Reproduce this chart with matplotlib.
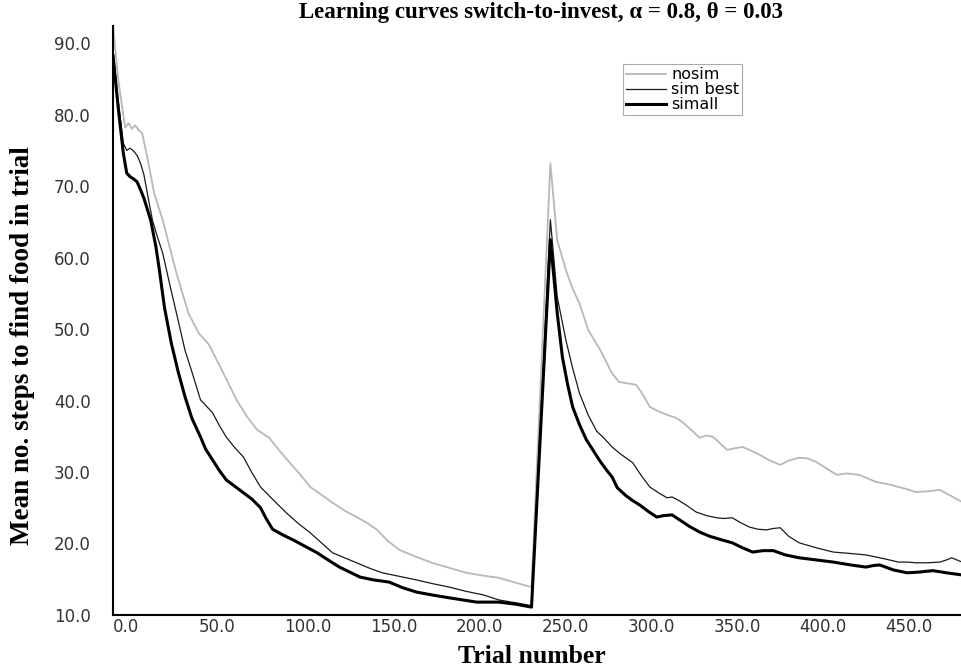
import matplotlib
matplotlib.use("Agg")
import matplotlib.pyplot as plt

# trial numbers / mean steps
nosim_x = [0, 3, 7, 9, 11, 13, 15, 17, 20, 24, 29, 33, 37, 44, 50, 56, 64, 72, 78, 84,
           91, 97, 103, 109, 115, 121, 128, 135, 142, 148, 154, 160, 167, 176, 186, 196,
           206, 216, 225, 235, 244, 255, 259, 264, 268, 272, 277, 284, 291, 295, 300, 305,
           309, 313, 318, 323, 328, 332, 337, 342, 346, 350, 354, 358, 362, 367, 372, 377,
           383, 389, 394, 400, 405, 410, 416, 422, 428, 435, 440, 445, 452, 458, 463, 468,
           475, 482, 489, 495]
nosim_y = [92.4, 85.0, 78.2, 78.8, 78.0, 78.5, 77.8, 77.4, 74.0, 69.0, 65.2, 61.5, 57.8,
           52.2, 49.4, 47.8, 44.0, 40.1, 37.8, 35.9, 34.8, 33.0, 31.3, 29.7, 27.9, 26.9,
           25.7, 24.6, 23.7, 22.9, 21.9, 20.4, 19.1, 18.2, 17.3, 16.6, 15.9, 15.5, 15.2,
           14.5, 13.9, 73.2, 62.4, 58.3, 55.6, 53.6, 49.9, 47.1, 43.8, 42.6, 42.4, 42.2,
           40.8, 39.1, 38.5, 38.0, 37.6, 37.0, 35.9, 34.8, 35.1, 34.9, 34.0, 33.1, 33.3,
           33.5, 33.0, 32.4, 31.6, 31.0, 31.6, 32.0, 31.9, 31.4, 30.5, 29.6, 29.8, 29.6,
           29.1, 28.6, 28.3, 27.9, 27.6, 27.2, 27.3, 27.5, 26.6, 25.8]

simbest_x = [0, 3, 6, 8, 10, 12, 14, 16, 18, 20, 23, 26, 29, 33, 37, 42, 46, 51, 58, 62,
             66, 71, 76, 81, 86, 93, 101, 108, 115, 121, 128, 135, 142, 150, 157, 167, 177,
             186, 196, 206, 216, 225, 235, 244, 255, 259, 264, 268, 272, 277, 282, 286,
             291, 296, 303, 308, 313, 318, 323, 326, 330, 334, 340, 346, 352, 356, 361,
             366, 371, 376, 381, 385, 389, 394, 400, 410, 420, 430, 439, 449, 458, 463,
             468, 475, 482, 486, 489, 495]
simbest_y = [89.0, 82.0, 76.0, 75.0, 75.3, 74.9, 74.3, 73.2, 71.6, 69.0, 65.2, 62.8, 60.6,
             56.3, 52.2, 47.0, 44.0, 40.1, 38.3, 36.5, 34.9, 33.4, 32.1, 29.9, 27.9, 26.2,
             24.3, 22.8, 21.5, 20.2, 18.7, 18.0, 17.3, 16.5, 15.9, 15.4, 14.9, 14.4, 13.9,
             13.3, 12.8, 12.1, 11.7, 11.3, 65.3, 54.5, 48.5, 44.5, 41.0, 38.0, 35.7, 34.8,
             33.5, 32.5, 31.3, 29.5, 27.9, 27.1, 26.4, 26.5, 26.0, 25.4, 24.4, 23.9, 23.6,
             23.5, 23.6, 22.9, 22.3, 22.0, 21.9, 22.1, 22.2, 21.0, 20.1, 19.4, 18.8, 18.6,
             18.4, 17.9, 17.4, 17.4, 17.3, 17.3, 17.4, 17.7, 18.0, 17.4]

simall_x = [0, 3, 6, 8, 10, 12, 14, 16, 18, 22, 25, 27, 30, 34, 38, 42, 46, 51, 54, 58,
            62, 66, 71, 76, 81, 86, 89, 93, 99, 105, 112, 119, 126, 132, 138, 144, 152, 161,
            169, 177, 186, 196, 204, 212, 225, 235, 244, 255, 259, 262, 265, 268, 272, 276,
            280, 284, 288, 291, 294, 299, 303, 307, 312, 317, 321, 326, 331, 336, 342, 348,
            355, 361, 367, 373, 379, 385, 392, 400, 410, 420, 430, 439, 443, 447, 455, 463,
            470, 478, 486, 495]
simall_y = [88.2, 81.0, 74.6, 71.8, 71.3, 71.0, 70.6, 69.5, 68.3, 65.2, 61.5, 58.3, 53.0,
            48.0, 44.0, 40.5, 37.5, 34.9, 33.2, 31.7, 30.2, 28.9, 28.0, 27.1, 26.2, 25.0,
            23.6, 22.0, 21.2, 20.5, 19.6, 18.7, 17.6, 16.7, 16.0, 15.3, 14.9, 14.6, 13.8,
            13.2, 12.8, 12.4, 12.1, 11.8, 11.8, 11.5, 11.1, 62.5, 52.2, 46.1, 42.3, 39.1,
            36.6, 34.5, 33.0, 31.5, 30.2, 29.3, 27.8, 26.7, 26.0, 25.4, 24.5, 23.7, 23.9,
            24.0, 23.2, 22.4, 21.6, 21.0, 20.5, 20.1, 19.4, 18.8, 19.0, 19.0, 18.4, 18.0,
            17.7, 17.4, 17.0, 16.7, 16.9, 17.0, 16.3, 15.9, 16.0, 16.2, 15.9, 15.6]

x_ticks = [0, 50, 100, 150, 200, 250, 300, 350, 400, 450]
y_ticks = [10, 20, 30, 40, 50, 60, 70, 80, 90]

fig = plt.figure(figsize=(9.62, 6.71), dpi=100)
ax = fig.add_axes([0.1175, 0.0835, 0.8825, 0.8778])

ax.plot(nosim_x, nosim_y, color='#b8b8b8', lw=1.3, label='nosim')
ax.plot(simbest_x, simbest_y, color='#1a1a1a', lw=0.9, label='sim best')
ax.plot(simall_x, simall_y, color='black', lw=2.2, label='simall')

ax.set_xlim(0, 495)
ax.set_ylim(10, 92.4)
ax.set_xticks(x_ticks)
ax.set_yticks(y_ticks)
ax.set_xticklabels([f'{v:.1f}' for v in x_ticks], ha='left')
ax.set_yticklabels([f'{v:.1f}' for v in y_ticks])
ax.tick_params(axis='x', length=0, pad=2, labelsize=12, labelcolor='#333333')
ax.tick_params(axis='y', length=0, pad=16, labelsize=12, labelcolor='#333333')
for lab in ax.get_xticklabels() + ax.get_yticklabels():
    lab.set_family('DejaVu Sans')

ax.spines['top'].set_visible(False)
ax.spines['right'].set_visible(False)
ax.spines['left'].set_linewidth(1.5)
ax.spines['bottom'].set_linewidth(1.5)

serif = dict(family='Liberation Serif', fontweight='bold')
fig.text(0.562, 0.982, 'Learning curves switch-to-invest, \u03b1 = 0.8, \u03b8 = 0.03',
         ha='center', va='center', fontsize=16.5, **serif)
fig.text(0.5525, 0.021, 'Trial number', ha='center', va='center', fontsize=18.5, **serif)
fig.text(0.023, 0.485, 'Mean no. steps to find food in trial', ha='center', va='center',
         rotation=90, fontsize=19.5, **serif)

leg = ax.legend(loc='upper left', bbox_to_anchor=(0.601, 0.9355), borderaxespad=0,
                handlelength=2.5, handletextpad=0.3, labelspacing=0.0,
                borderpad=0.2, fancybox=False, framealpha=1,
                prop={'family': 'DejaVu Sans', 'size': 11.5})
leg.get_frame().set_edgecolor('#aaaaaa')
leg.get_frame().set_linewidth(0.8)

fig.savefig('out.png', dpi=100, facecolor='white')
